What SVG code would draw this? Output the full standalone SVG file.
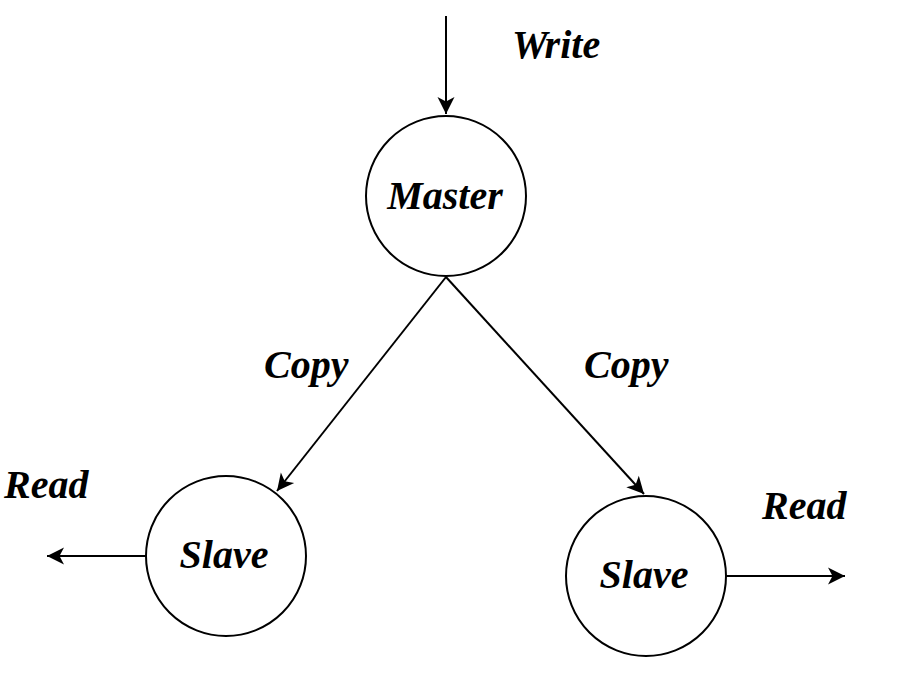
<svg xmlns="http://www.w3.org/2000/svg" width="902" height="690" viewBox="0 0 902 690">
<style>
.n{fill:#fff;stroke:#000;stroke-width:2}
.t{font-family:"Liberation Serif","Times New Roman",serif;font-weight:bold;font-style:italic;font-size:40px;fill:#000}
.c{fill:none;stroke:#000;stroke-width:2}
</style>
<defs>
<marker id="a" markerUnits="userSpaceOnUse" markerWidth="20" markerHeight="20" viewBox="-18 -10 20 20" refX="0" refY="0" orient="auto">
<path d="M0,0 L-17,-8.5 L-12.5,0 L-17,8.5 Z" fill="#000"/>
</marker>
</defs>
<g id="connectors">
<line class="c" x1="446" y1="16" x2="446" y2="114" marker-end="url(#a)"/>
<line class="c" x1="446" y1="277" x2="277" y2="491" marker-end="url(#a)"/>
<line class="c" x1="446" y1="277" x2="644" y2="494" marker-end="url(#a)"/>
<line class="c" x1="146" y1="556" x2="47" y2="556" marker-end="url(#a)"/>
<line class="c" x1="726" y1="576" x2="845" y2="576" marker-end="url(#a)"/>
</g>
<g id="master">
<circle class="n" cx="446" cy="196" r="80"/>
<text class="t" x="445" y="209" text-anchor="middle">Master</text>
</g>
<g id="slave-left">
<circle class="n" cx="226" cy="556" r="80"/>
<text class="t" x="224" y="568" text-anchor="middle">Slave</text>
</g>
<g id="slave-right">
<circle class="n" cx="646" cy="576" r="80"/>
<text class="t" x="644" y="588" text-anchor="middle">Slave</text>
</g>
<g id="labels">
<text class="t" x="512" y="58">Write</text>
<text class="t" x="264" y="378">Copy</text>
<text class="t" x="584" y="378">Copy</text>
<text class="t" x="4" y="498">Read</text>
<text class="t" x="762" y="519">Read</text>
</g>
</svg>
